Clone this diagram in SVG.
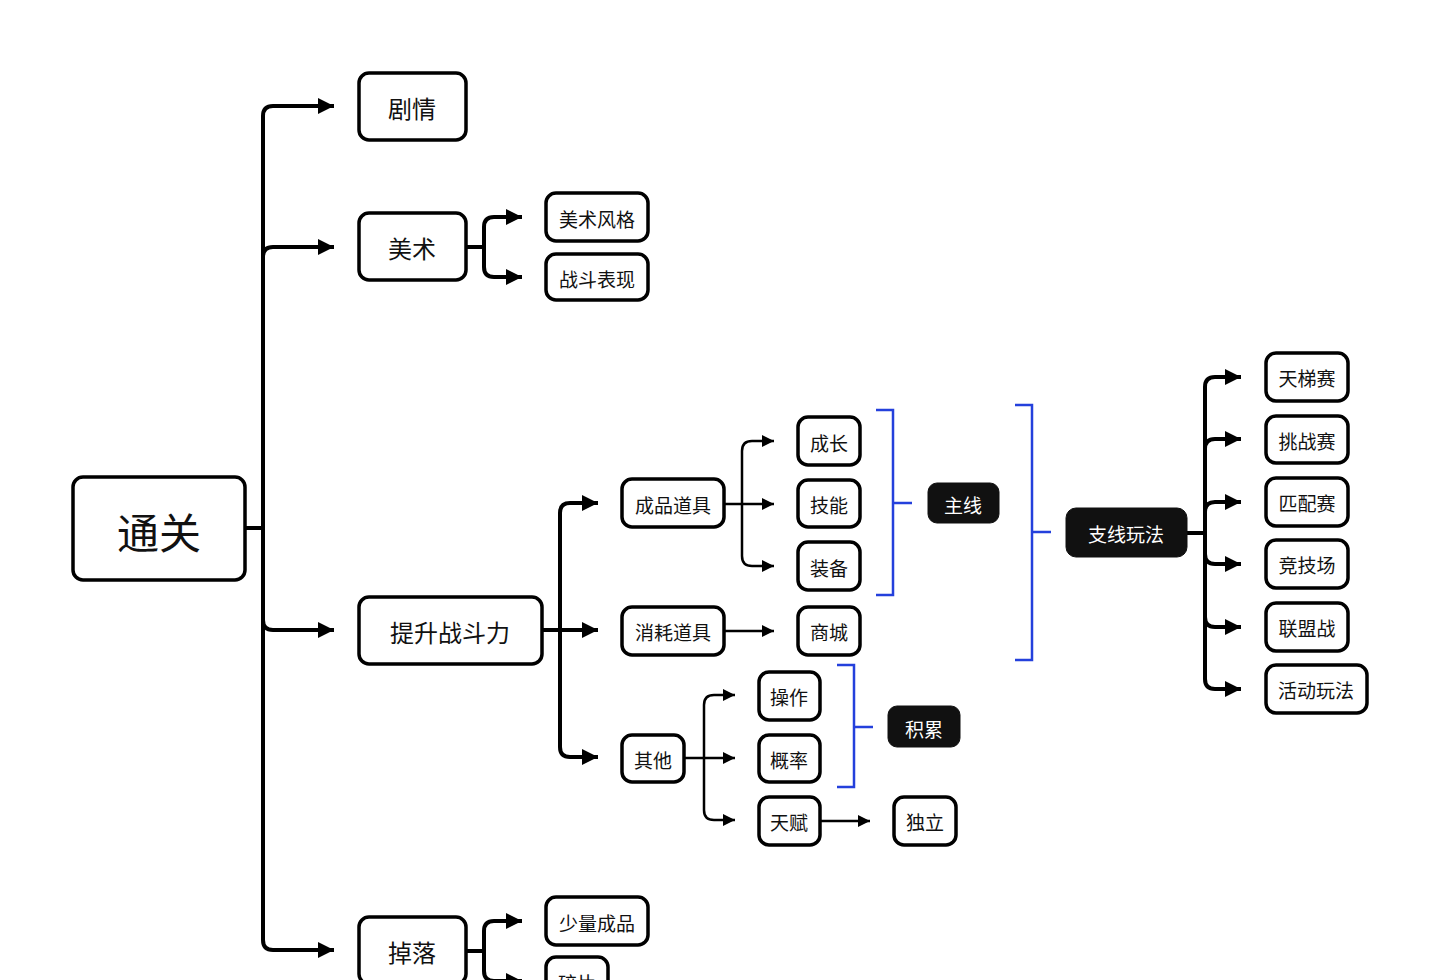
<svg xmlns="http://www.w3.org/2000/svg" width="1440" height="980" viewBox="0 0 1440 980">
<style>
.n rect{fill:#fff;stroke:#000;stroke-width:3.5}
.d rect{fill:#111;stroke:#111;stroke-width:1}
text{font-family:"Noto Sans CJK SC","Noto Sans",sans-serif;text-anchor:middle;dominant-baseline:central;fill:#111}
.d text{fill:#fff}
.t0{font-size:42px}
.t1{font-size:24px}
.t2{font-size:19px}
.c path{fill:none;stroke:#000}
.w4{stroke-width:4}
.w3{stroke-width:3}
.w2{stroke-width:2.5}
.b path{fill:none;stroke:#2440dc;stroke-width:2.5}
</style>
<defs>
<marker id="aL" markerUnits="userSpaceOnUse" viewBox="0 0 16 16" markerWidth="16" markerHeight="16" refX="16" refY="8" orient="auto"><path d="M0,0 L16,8 L0,16 z" fill="#000"/></marker>
<marker id="aS" markerUnits="userSpaceOnUse" viewBox="0 0 12 12" markerWidth="12" markerHeight="12" refX="12" refY="6" orient="auto"><path d="M0,0 L12,6 L0,12 z" fill="#000"/></marker>
</defs>
<rect width="1440" height="980" fill="#fff"/>
<g class="c" id="connectors">
<path class="w4" d="M245,528 H263"/>
<path class="w4" d="M263,528 V116 Q263,106 273,106 H334" marker-end="url(#aL)"/>
<path class="w4" d="M263,257 Q263,247 273,247 H334" marker-end="url(#aL)"/>
<path class="w4" d="M263,620 Q263,630 273,630 H334" marker-end="url(#aL)"/>
<path class="w4" d="M263,528 V940 Q263,950 273,950 H334" marker-end="url(#aL)"/>
<path class="w4" d="M466,247 H484"/>
<path class="w4" d="M484,247 V227 Q484,217 494,217 H522" marker-end="url(#aL)"/>
<path class="w4" d="M484,247 V267 Q484,277 494,277 H522" marker-end="url(#aL)"/>
<path class="w4" d="M466,951 H484"/>
<path class="w4" d="M484,951 V931 Q484,921 494,921 H522" marker-end="url(#aL)"/>
<path class="w4" d="M484,951 V971 Q484,981 494,981 H522" marker-end="url(#aL)"/>
<path class="w4" d="M542,630 H598" marker-end="url(#aL)"/>
<path class="w4" d="M560,630 V513 Q560,503 570,503 H598" marker-end="url(#aL)"/>
<path class="w4" d="M560,630 V747 Q560,757 570,757 H598" marker-end="url(#aL)"/>
<path class="w2" d="M724,504 H774" marker-end="url(#aS)"/>
<path class="w2" d="M742,504 V451 Q742,441 752,441 H774" marker-end="url(#aS)"/>
<path class="w2" d="M742,504 V556 Q742,566 752,566 H774" marker-end="url(#aS)"/>
<path class="w2" d="M724,631 H774" marker-end="url(#aS)"/>
<path class="w2" d="M684,758 H735" marker-end="url(#aS)"/>
<path class="w2" d="M704,758 V705 Q704,695 714,695 H735" marker-end="url(#aS)"/>
<path class="w2" d="M704,758 V810 Q704,820 714,820 H735" marker-end="url(#aS)"/>
<path class="w2" d="M820,821 H870" marker-end="url(#aS)"/>
<path class="w4" d="M1187,533 H1205"/>
<path class="w4" d="M1205,533 V387 Q1205,377 1215,377 H1241" marker-end="url(#aL)"/>
<path class="w4" d="M1205,449 Q1205,439 1215,439 H1241" marker-end="url(#aL)"/>
<path class="w4" d="M1205,512 Q1205,502 1215,502 H1241" marker-end="url(#aL)"/>
<path class="w4" d="M1205,554 Q1205,564 1215,564 H1241" marker-end="url(#aL)"/>
<path class="w4" d="M1205,617 Q1205,627 1215,627 H1241" marker-end="url(#aL)"/>
<path class="w4" d="M1205,533 V679 Q1205,689 1215,689 H1241" marker-end="url(#aL)"/>
</g>
<g class="b" id="brackets">
<path d="M876,410 H893 V595 H876 M893,503 H912"/>
<path d="M837,665 H854 V787 H837 M854,727 H873"/>
<path d="M1015,405 H1032 V660 H1015 M1032,532 H1051"/>
</g>
<g class="n" id="n-tongguan"><rect x="73" y="477" width="172" height="103" rx="10"/><text class="t0" x="159" y="530">通关</text></g>
<g class="n" id="n-juqing"><rect x="359" y="73" width="107" height="67" rx="10"/><text class="t1" x="412" y="107">剧情</text></g>
<g class="n" id="n-meishu"><rect x="359" y="213" width="107" height="67" rx="10"/><text class="t1" x="412" y="247">美术</text></g>
<g class="n" id="n-tisheng"><rect x="359" y="597" width="183" height="67" rx="10"/><text class="t1" x="450" y="631">提升战斗力</text></g>
<g class="n" id="n-diaoluo"><rect x="359" y="917" width="107" height="67" rx="10"/><text class="t1" x="412" y="951">掉落</text></g>
<g class="n" id="n-msfg"><rect x="546" y="193" width="102" height="48" rx="10"/><text class="t2" x="597" y="218">美术风格</text></g>
<g class="n" id="n-zdbx"><rect x="546" y="254" width="102" height="46" rx="10"/><text class="t2" x="597" y="278">战斗表现</text></g>
<g class="n" id="n-slcp"><rect x="546" y="897" width="102" height="48" rx="10"/><text class="t2" x="597" y="922">少量成品</text></g>
<g class="n" id="n-suipian"><rect x="546" y="957" width="62" height="48" rx="10"/><text class="t2" x="577" y="982">碎片</text></g>
<g class="n" id="n-cpdj"><rect x="622" y="479" width="102" height="48" rx="10"/><text class="t2" x="673" y="504">成品道具</text></g>
<g class="n" id="n-xhdj"><rect x="622" y="607" width="102" height="48" rx="10"/><text class="t2" x="673" y="631">消耗道具</text></g>
<g class="n" id="n-qita"><rect x="622" y="735" width="62" height="47" rx="10"/><text class="t2" x="653" y="759">其他</text></g>
<g class="n" id="n-chengzhang"><rect x="798" y="417" width="62" height="48" rx="10"/><text class="t2" x="829" y="442">成长</text></g>
<g class="n" id="n-jineng"><rect x="798" y="480" width="62" height="47" rx="10"/><text class="t2" x="829" y="504">技能</text></g>
<g class="n" id="n-zhuangbei"><rect x="798" y="542" width="62" height="48" rx="10"/><text class="t2" x="829" y="567">装备</text></g>
<g class="n" id="n-shangcheng"><rect x="798" y="607" width="62" height="48" rx="10"/><text class="t2" x="829" y="631">商城</text></g>
<g class="n" id="n-caozuo"><rect x="759" y="672" width="61" height="48" rx="10"/><text class="t2" x="789" y="696">操作</text></g>
<g class="n" id="n-gailv"><rect x="759" y="735" width="61" height="47" rx="10"/><text class="t2" x="789" y="759">概率</text></g>
<g class="n" id="n-tianfu"><rect x="759" y="797" width="61" height="48" rx="10"/><text class="t2" x="789" y="821">天赋</text></g>
<g class="n" id="n-duli"><rect x="894" y="797" width="62" height="48" rx="10"/><text class="t2" x="925" y="821">独立</text></g>
<g class="d" id="n-zhuxian"><rect x="928" y="483" width="71" height="40" rx="9"/><text class="t2" x="963" y="504">主线</text></g>
<g class="d" id="n-jilei"><rect x="888" y="706" width="72" height="41" rx="9"/><text class="t2" x="924" y="728">积累</text></g>
<g class="d" id="n-zhixian"><rect x="1066" y="508" width="121" height="49" rx="10"/><text class="t2" x="1126" y="533">支线玩法</text></g>
<g class="n" id="n-tts"><rect x="1266" y="353" width="82" height="48" rx="10"/><text class="t2" x="1307" y="377">天梯赛</text></g>
<g class="n" id="n-tzs"><rect x="1266" y="416" width="82" height="47" rx="10"/><text class="t2" x="1307" y="440">挑战赛</text></g>
<g class="n" id="n-pps"><rect x="1266" y="478" width="82" height="48" rx="10"/><text class="t2" x="1307" y="502">匹配赛</text></g>
<g class="n" id="n-jjc"><rect x="1266" y="540" width="82" height="48" rx="10"/><text class="t2" x="1307" y="564">竞技场</text></g>
<g class="n" id="n-lmz"><rect x="1266" y="603" width="82" height="48" rx="10"/><text class="t2" x="1307" y="627">联盟战</text></g>
<g class="n" id="n-hdwf"><rect x="1266" y="665" width="101" height="48" rx="10"/><text class="t2" x="1316" y="689">活动玩法</text></g>
</svg>
